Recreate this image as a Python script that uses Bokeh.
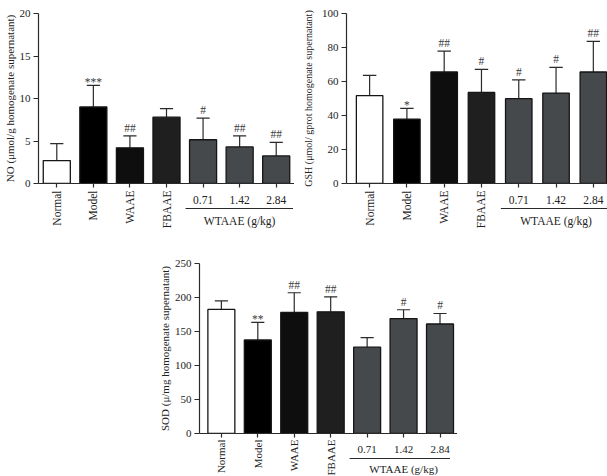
import math
import numpy as np
from bokeh.plotting import figure
from bokeh.models import (ColumnDataSource, Label, LabelSet, FixedTicker,
                          Spacer, Range1d)
from bokeh.layouts import column, row
from bokeh.embed import file_html
from bokeh.resources import INLINE
from bokeh.core.properties import value

# ---------------- data ----------------
groups = ["Normal", "Model", "WAAE", "FBAAE", "0.71", "1.42", "2.84"]
name_labels = ["Normal", "Model", "WAAE", "FBAAE"]
dose_labels = ["0.71", "1.42", "2.84"]
group_label = "WTAAE (g/kg)"
bar_colors = ["#ffffff", "#000000", "#0e0e0e", "#1f1f1f", "#46494c", "#46494c", "#46494c"]

no_mean = [2.7, 9.0, 4.2, 7.8, 5.15, 4.3, 3.25]
no_upper = [4.7, 11.55, 5.6, 8.8, 7.7, 5.6, 4.85]
no_sig = ["", "***", "##", "", "#", "##", "##"]

gsh_mean = [51.7, 37.8, 65.6, 53.6, 49.9, 53.2, 65.6]
gsh_upper = [63.6, 44.2, 77.9, 67.1, 60.9, 68.3, 83.6]
gsh_sig = ["", "*", "##", "#", "#", "#", "##"]

sod_mean = [182.5, 137.5, 178, 179, 127, 169, 161]
sod_upper = [195, 163.5, 207, 201, 141, 182, 176.5]
sod_sig = ["", "**", "##", "##", "", "#", "#"]

FONT = "Liberation Serif"
FRAME_H = 170
AX_BOTTOM = 6   # px kept under each chart frame for the x ticks


def make_chart(means, uppers, sigs, ymax, yint, ylabel, ylab_size, xr,
               frame_w, left, top, lab_standoff, bar_w):
    p = figure(frame_width=frame_w, frame_height=FRAME_H,
               x_range=xr, y_range=Range1d(0, ymax),
               output_backend="svg", toolbar_location=None,
               min_border_left=left, min_border_right=0,
               min_border_top=top, min_border_bottom=AX_BOTTOM)
    p.title.visible = False
    p.xgrid.visible = False
    p.ygrid.visible = False
    p.outline_line_color = None

    xs = np.arange(len(groups))
    cap = 0.18
    offs = [(-1 if s.startswith("*") else 4) for s in sigs]
    src = ColumnDataSource(dict(x=xs, mean=means, upper=uppers, sig=sigs,
                                color=bar_colors, xl=xs - cap, xr=xs + cap,
                                off=offs))

    p.segment(x0="x", y0="mean", x1="x", y1="upper", source=src,
              line_color="#2a2a2a", line_width=1.2)
    p.segment(x0="xl", y0="upper", x1="xr", y1="upper", source=src,
              line_color="#2a2a2a", line_width=1.2)
    p.vbar(x="x", top="mean", width=bar_w, fill_color="color",
           line_color="#151515", line_width=1.3, source=src)

    p.add_layout(LabelSet(x="x", y="upper", text="sig", y_offset="off",
                          source=src, text_align="center",
                          text_baseline="alphabetic",
                          text_font=value(FONT), text_font_size="11.5px",
                          text_color="#3a3a3a"))

    for ax in (p.xaxis[0], p.yaxis[0]):
        ax.axis_line_color = "#2a2a2a"
        ax.axis_line_width = 1.2
        ax.major_tick_line_color = "#2a2a2a"
        ax.major_tick_line_width = 1.2
        ax.major_tick_in = 0
        ax.major_tick_out = 5
        ax.minor_tick_in = 0
        ax.minor_tick_out = 0
        ax.major_label_text_font = FONT
        ax.major_label_text_font_size = "11px"
        ax.major_label_text_color = "#222222"
        ax.major_label_standoff = 3

    p.xaxis.ticker = FixedTicker(ticks=list(range(len(groups))))
    p.xaxis.major_label_overrides = {i: "" for i in range(len(groups))}
    p.xaxis.major_label_text_font_size = "0px"
    p.xaxis.major_label_standoff = 0
    p.xaxis.major_tick_out = 4

    p.yaxis.ticker = FixedTicker(ticks=list(range(0, ymax + 1, yint)))
    p.yaxis.axis_label = ylabel
    p.yaxis.axis_label_text_font = FONT
    p.yaxis.axis_label_text_font_size = ylab_size
    p.yaxis.axis_label_text_font_style = "normal"
    p.yaxis.axis_label_text_color = "#222222"
    p.yaxis.axis_label_standoff = lab_standoff
    return p


def make_labels(xr, frame_w, left, height, name_off, dose_off, line_off,
                grp_off, fsize):
    """Strip under a chart holding the category texts (offsets in px below the axis)."""
    q = figure(frame_width=frame_w, frame_height=height, x_range=xr,
               y_range=Range1d(-height, 0), x_axis_type=None, y_axis_type=None,
               output_backend="svg", toolbar_location=None,
               min_border_left=left, min_border_right=0,
               min_border_top=0, min_border_bottom=0)
    q.title.visible = False
    q.outline_line_color = None
    for name in name_labels:
        i = groups.index(name)
        q.add_layout(Label(x=i, y=-(name_off - AX_BOTTOM), text=name,
                           angle=math.pi / 2, text_align="right",
                           text_baseline="middle", text_font=FONT,
                           text_font_size=fsize, text_color="#222222"))
    for name in dose_labels:
        i = groups.index(name)
        q.add_layout(Label(x=i, y=-(dose_off - AX_BOTTOM), text=name,
                           text_align="center", text_baseline="middle",
                           text_font=FONT, text_font_size=fsize,
                           text_color="#222222"))
    i0 = groups.index(dose_labels[0])
    i1 = groups.index(dose_labels[-1])
    yl = -(line_off - AX_BOTTOM)
    q.segment(x0=[i0 - 0.48], y0=[yl], x1=[i1 + 0.46], y1=[yl],
              line_color="#2a2a2a", line_width=1.2)
    q.add_layout(Label(x=(i0 + i1) / 2, y=-(grp_off - AX_BOTTOM),
                       text=group_label, text_align="center",
                       text_baseline="middle", text_font=FONT,
                       text_font_size=fsize, text_color="#222222"))
    return q


xr1 = Range1d(-0.5, 6.5)
xr2 = Range1d(-0.62, 6.38)
xr3 = Range1d(-0.6, 6.48)

f1 = make_chart(no_mean, no_upper, no_sig, 20, 5,
                "NO (μmol/g homogenate supernatant)", "11px",
                xr1, 256, 38, 13, 1, 0.74)
l1 = make_labels(xr1, 256, 38, 51, 7, 16, 25, 37, "11.5px")

f2 = make_chart(gsh_mean, gsh_upper, gsh_sig, 100, 20,
                "GSH (μmol/ gprot homogenate supernatant)", "10px",
                xr2, 261, 52, 13, 5, 0.71)
l2 = make_labels(xr2, 261, 52, 51, 7, 16, 25, 37, "11.5px")

f3 = make_chart(sod_mean, sod_upper, sod_sig, 250, 50,
                "SOD (μ/mg homogenate supernatant)", "11px",
                xr3, 258, 37, 23, 1, 0.74)
l3 = make_labels(xr3, 258, 37, 37, 6, 16, 25, 35, "11px")

layout = column(row(column(f1, l1), column(f2, l2)),
                row(Spacer(width=155, height=10), column(f3, l3)))

with open("out.html", "w") as fh:
    fh.write(file_html(layout, INLINE))
